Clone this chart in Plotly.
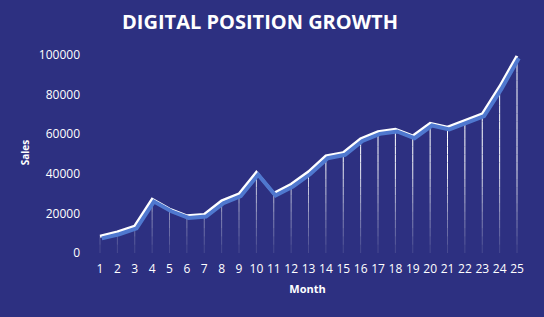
import plotly.graph_objects as go

months = list(range(1, 26))
sales = [8500, 10600, 13600, 27100, 22200, 18800, 19500, 26300, 29800, 40700,
         30100, 34700, 41000, 49000, 50700, 57700, 61300, 62500, 59100, 65500,
         63500, 66700, 70200, 84000, 99500]
y_ticks = [0, 20000, 40000, 60000, 80000, 100000]

BG = "#2d3081"
W, H = 544, 317
ML, MR, MT, MB = 85, 14, 45, 57
pxx = 17.375           # px per month
pxy = 198 / 100000     # px per sales unit
xr = [1 - 15 / pxx, 25 + 13 / pxx]
yr = [0 - 7 / pxy, 100000 + 10 / pxy]

fig = go.Figure()

# drop lines with vertical fade (bands of increasing opacity)
nb = 24
top = max(sales)
for k in range(nb):
    lo = top * k / nb
    hi = top * (k + 1) / nb
    xs, ys = [], []
    for m, s in zip(months, sales):
        if s > lo:
            xs += [m, m, None]
            ys += [lo, min(s, hi), None]
    fig.add_trace(go.Scatter(x=xs, y=ys, mode="lines",
                             line=dict(color="white", width=1),
                             opacity=min(1.0, 0.08 + 2.0 * (k + 0.5) / nb),
                             hoverinfo="skip", showlegend=False))

# shadow line (offset axes)
fig.add_trace(go.Scatter(x=months, y=sales, mode="lines",
                         line=dict(color="#4f78cf", width=4),
                         xaxis="x2", yaxis="y2", showlegend=False, hoverinfo="skip"))
# main line
fig.add_trace(go.Scatter(x=months, y=sales, mode="lines",
                         line=dict(color="white", width=3),
                         showlegend=False))

dx = 1.8 / pxx
dy = 2.2 / pxy
fig.update_layout(
    width=W, height=H,
    margin=dict(l=ML, r=MR, t=MT, b=MB),
    paper_bgcolor=BG, plot_bgcolor=BG,
    font=dict(family="Open Sans", color="white", size=11),
    title=dict(text="<b>DIGITAL POSITION GROWTH</b>", x=260 / W, xref="container",
               xanchor="center", y=1 - 22 / H, yanchor="middle",
               font=dict(size=20, color="white", family="Open Sans")),
    xaxis=dict(range=xr, tickmode="array", tickvals=months,
               ticktext=[str(m) for m in months],
               showgrid=False, zeroline=False, showline=False,
               tickfont=dict(size=12, color="white"),
               title=dict(text="<b>Month</b>", font=dict(size=11, color="white"), standoff=9)),
    yaxis=dict(range=yr, tickmode="array", tickvals=y_ticks,
               ticktext=[str(v) for v in y_ticks],
               showgrid=False, zeroline=False, showline=False,
               tickfont=dict(size=12, color="white"), ticklabelstandoff=4,
               title=dict(text="<b>Sales</b>", font=dict(size=10, color="white"), standoff=7)),
    xaxis2=dict(range=[xr[0] - dx, xr[1] - dx], overlaying="x", visible=False),
    yaxis2=dict(range=[yr[0] + dy, yr[1] + dy], overlaying="y", visible=False),
)

fig.write_html("out.html")
